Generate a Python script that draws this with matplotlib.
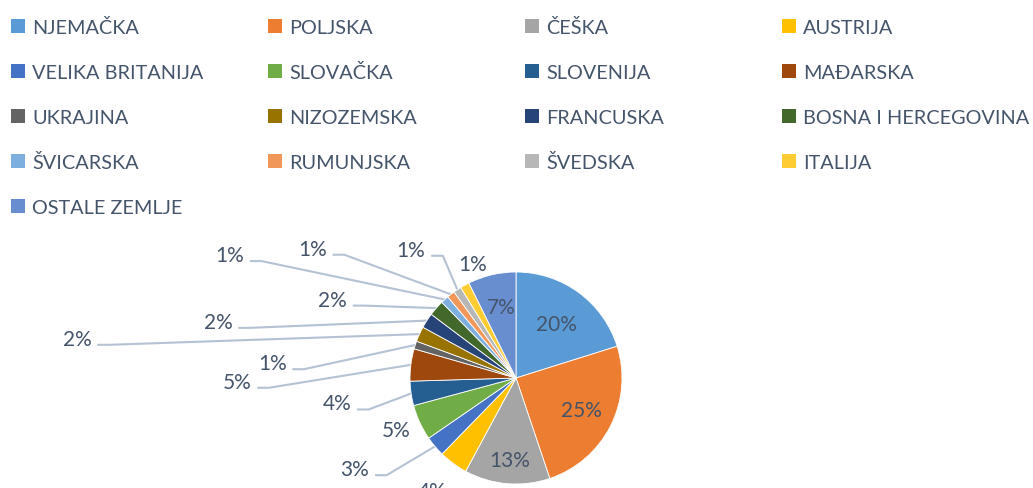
import numpy as np
import matplotlib.pyplot as plt
import matplotlib.patches as patches

W, H = 1033, 489

countries = ['NJEMAČKA', 'POLJSKA', 'ČEŠKA', 'AUSTRIJA',
             'VELIKA BRITANIJA', 'SLOVAČKA', 'SLOVENIJA', 'MAĐARSKA',
             'UKRAJINA', 'NIZOZEMSKA', 'FRANCUSKA', 'BOSNA I HERCEGOVINA',
             'ŠVICARSKA', 'RUMUNJSKA', 'ŠVEDSKA', 'ITALIJA',
             'OSTALE ZEMLJE']
shares = [20.1, 24.6, 13.0, 4.4, 3.1, 5.4, 3.7, 4.9,
          1.2, 2.3, 2.3, 2.4, 1.2, 1.2, 1.2, 1.4, 7.3]
colors = ['#5B9BD5', '#ED7D31', '#A5A5A5', '#FFC000',
          '#4472C4', '#70AD47', '#255E91', '#9E480E',
          '#636363', '#997300', '#264478', '#43682B',
          '#7CAFDD', '#F1975A', '#B7B7B7', '#FFCD33', '#698ED0']

# label centres in pie units (radius = 1), and which ones get a leader line
label_xy = [(0.38, 0.51), (0.62, -0.30), (-0.06, -0.77), (-0.79, -1.07),
            (-1.52, -0.86), (-1.13, -0.49), (-1.69, -0.24), (-2.63, -0.035),
            (-2.30, 0.14), (-4.14, 0.37), (-2.81, 0.53), (-1.73, 0.74),
            (-2.70, 1.16), (-1.92, 1.22), (-0.99, 1.21), (-0.41, 1.08),
            (-0.135, 0.67)]
leader = [False, False, False, False, True, False, True, True, True,
          True, True, True, True, True, True, False, False]

TXT = '#44546A'
LINE = '#B4C2D3'
FONT = 'Lato'

CX, CY, R = 516, 379, 106  # pie centre / radius in pixels

fig = plt.figure(figsize=(W / 100, H / 100), dpi=100)
ax = fig.add_axes([0, 0, 1, 1])

wedges, _ = ax.pie(shares, colors=colors, startangle=90, counterclock=False,
                   radius=1, wedgeprops=dict(edgecolor='white', linewidth=0.6))
ax.set_xlim(-CX / R, (W - CX) / R)
ax.set_ylim(-(H - CY) / R, CY / R)
ax.set_aspect('auto')
ax.axis('off')

total = sum(shares)
for i, w in enumerate(wedges):
    x, y = label_xy[i]
    ax.text(x, y, '%.0f%%' % (shares[i] / total * 100), ha='center', va='center',
            fontsize=15, color=TXT, family=FONT)
    if leader[i]:
        mid = np.deg2rad((w.theta1 + w.theta2) / 2)
        ly = y - 0.057
        ax.plot([x + 0.19, x + 0.30, np.cos(mid)], [ly, ly, np.sin(mid)],
                color=LINE, lw=1.5, solid_capstyle='butt', zorder=0)

# legend, four equal columns like the original
for i, name in enumerate(countries):
    col, row = i % 4, i // 4
    mx = 11 + col * 257
    base = 34.3 + row * 45
    fig.add_artist(patches.Rectangle((mx / W, 1 - base / H), 14 / W, 14 / H,
                                     transform=fig.transFigure,
                                     facecolor=colors[i], edgecolor='none'))
    fig.text((mx + 21) / W, 1 - base / H, name, ha='left', va='baseline',
             fontsize=14.3, color=TXT, family=FONT)

fig.savefig('out.png', dpi=100)
